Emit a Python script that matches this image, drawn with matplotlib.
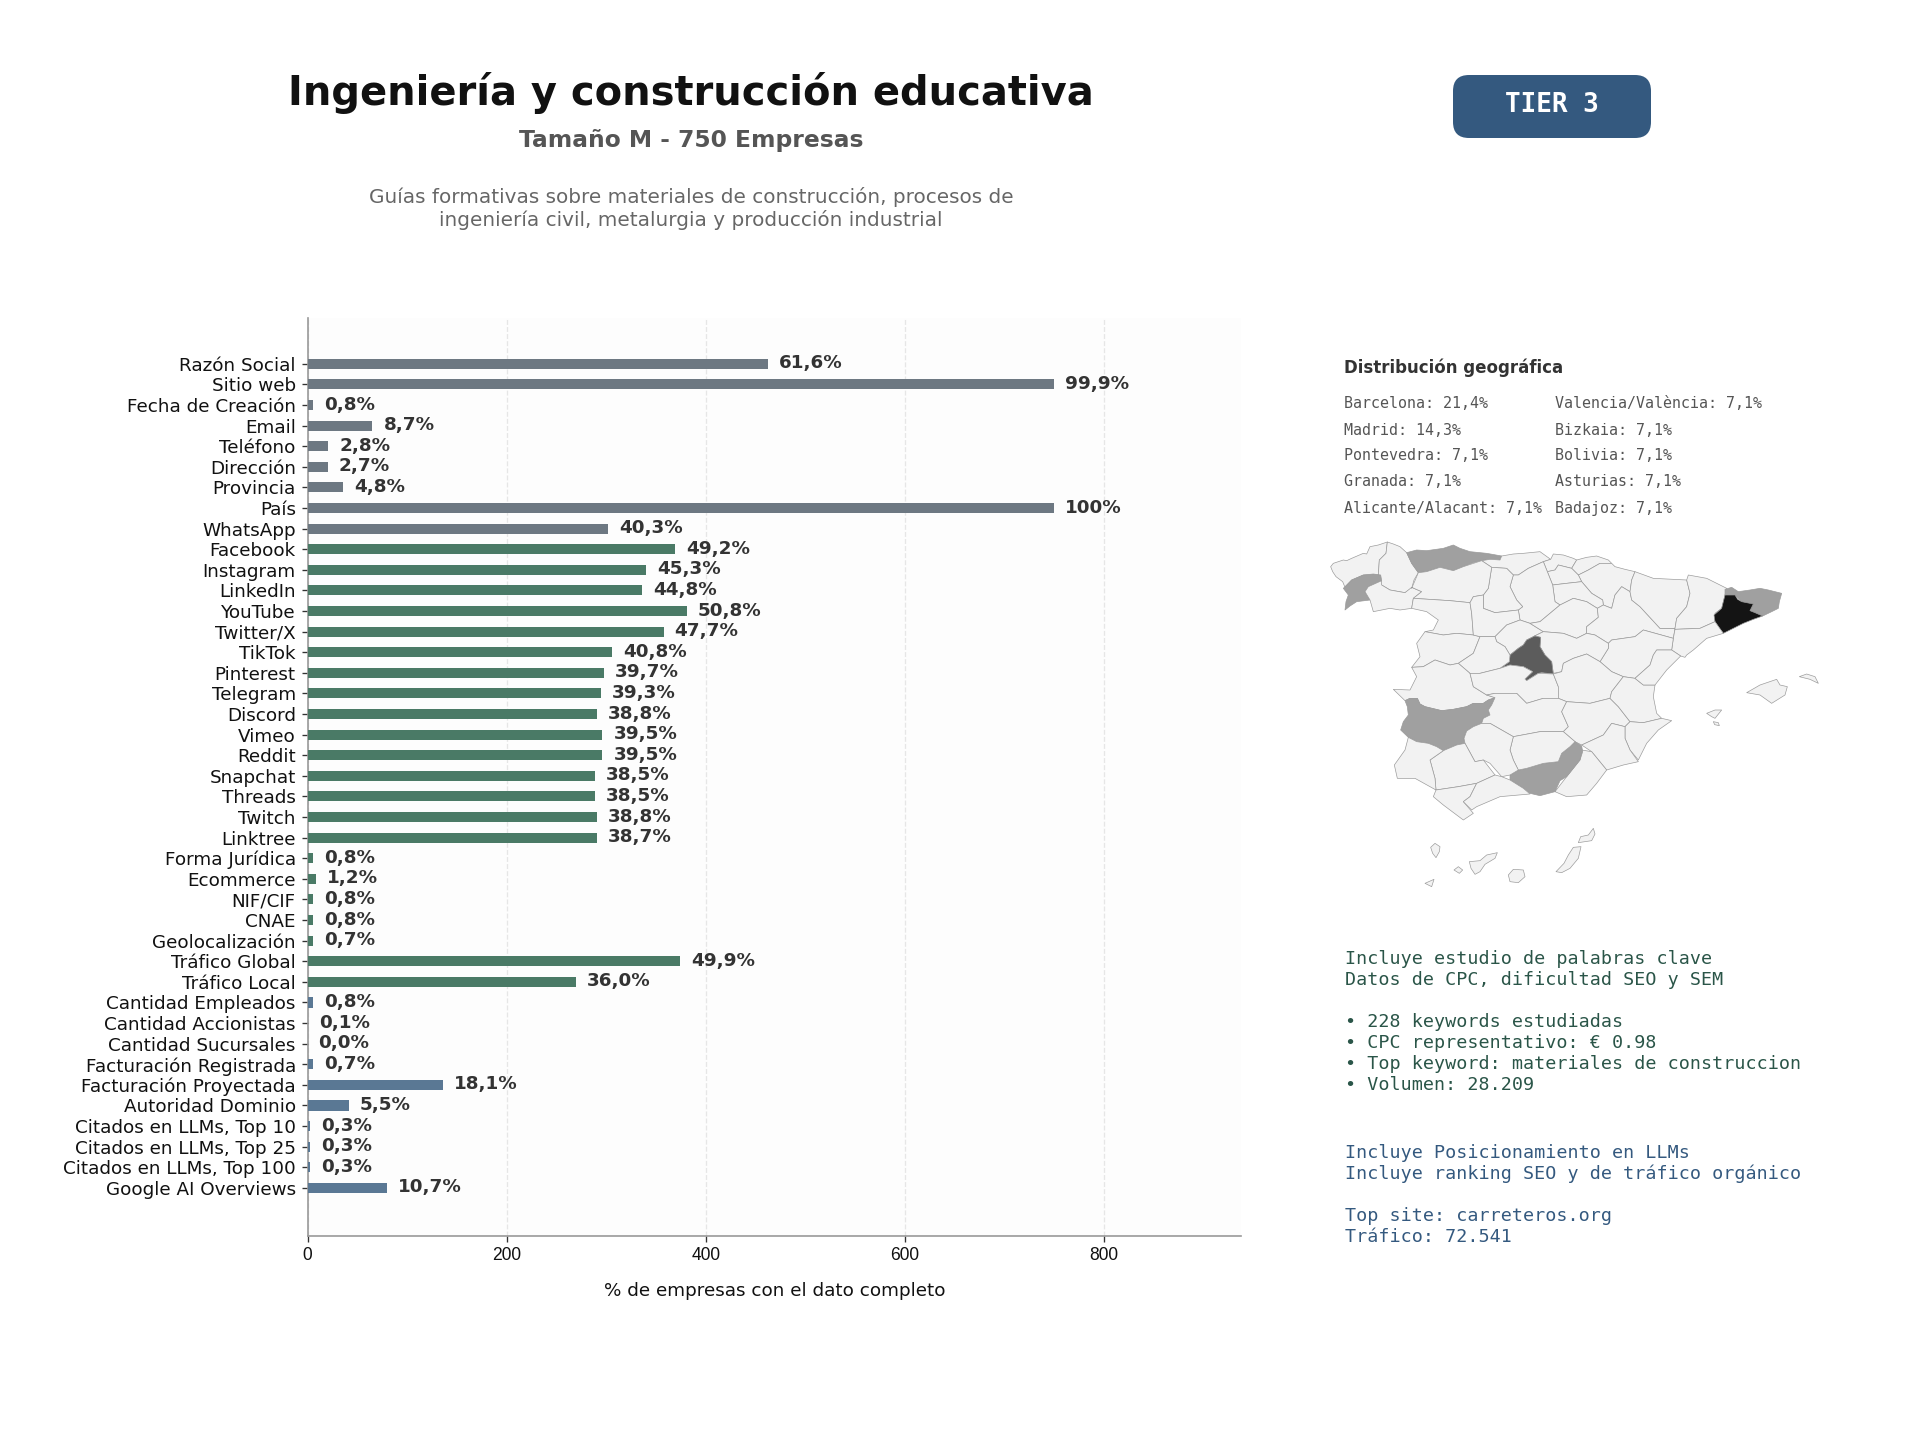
import matplotlib
matplotlib.use("Agg")
import matplotlib.pyplot as plt
from matplotlib.patches import FancyBboxPatch, Polygon

W, H = 1920, 1440

# Completeness of each company data field, in percent
GENERAL_FIELDS = ["Razón Social", "Sitio web", "Fecha de Creación", "Email", "Teléfono",
                  "Dirección", "Provincia", "País", "WhatsApp"]
GENERAL_PCT = [61.6, 99.9, 0.8, 8.7, 2.8, 2.7, 4.8, 100, 40.3]
SOCIAL_FIELDS = ["Facebook", "Instagram", "LinkedIn", "YouTube", "Twitter/X", "TikTok",
                 "Pinterest", "Telegram", "Discord", "Vimeo", "Reddit", "Snapchat",
                 "Threads", "Twitch", "Linktree", "Forma Jurídica", "Ecommerce", "NIF/CIF",
                 "CNAE", "Geolocalización", "Tráfico Global", "Tráfico Local"]
SOCIAL_PCT = [49.2, 45.3, 44.8, 50.8, 47.7, 40.8, 39.7, 39.3, 38.8, 39.5, 39.5, 38.5,
              38.5, 38.8, 38.7, 0.8, 1.2, 0.8, 0.8, 0.7, 49.9, 36.0]
BUSINESS_FIELDS = ["Cantidad Empleados", "Cantidad Accionistas", "Cantidad Sucursales",
                   "Facturación Registrada", "Facturación Proyectada", "Autoridad Dominio",
                   "Citados en LLMs, Top 10", "Citados en LLMs, Top 25",
                   "Citados en LLMs, Top 100", "Google AI Overviews"]
BUSINESS_PCT = [0.8, 0.1, 0.0, 0.7, 18.1, 5.5, 0.3, 0.3, 0.3, 10.7]
TOTAL_COMPANIES = 750
X_TICKS = [0, 200, 400, 600, 800]

GEO_LEFT = ["Barcelona: 21,4%", "Madrid: 14,3%", "Pontevedra: 7,1%", "Granada: 7,1%",
            "Alicante/Alacant: 7,1%"]
GEO_RIGHT = ["Valencia/València: 7,1%", "Bizkaia: 7,1%", "Bolivia: 7,1%", "Asturias: 7,1%",
             "Badajoz: 7,1%"]
SEO_LINES = ["Incluye estudio de palabras clave", "Datos de CPC, dificultad SEO y SEM", "",
             "• 228 keywords estudiadas", "• CPC representativo: € 0.98",
             "• Top keyword: materiales de construccion", "• Volumen: 28.209"]
LLM_LINES = ["Incluye Posicionamiento en LLMs", "Incluye ranking SEO y de tráfico orgánico", "",
             "Top site: carreteros.org", "Tráfico: 72.541"]

# Simplified province outlines in map units (y grows southwards)
PROVINCES = {
    "A Coruña": [(62,110),(70,100),(100,90),(110,92),(125,85),(160,70),(170,72),(180,50),(205,45),(232,36),(228,70),(208,90),(205,135),(160,135),(125,150),(105,172),(98,155),(78,140),(68,125)],
    "Lugo": [(232,36),(250,42),(270,50),(290,68),(305,100),(325,128),(312,150),(305,175),(285,188),(240,180),(215,165),(212,150),(205,135),(208,90),(228,70)],
    "Pontevedra": [(125,150),(160,135),(190,132),(212,135),(215,152),(195,162),(175,170),(165,185),(180,210),(140,215),(120,228),(105,240),(108,215),(115,195),(100,175)],
    "Ourense": [(175,170),(215,152),(215,165),(240,180),(285,188),(305,172),(335,185),(310,205),(305,235),(270,240),(240,235),(190,245),(180,210),(165,185)],
    "Asturias": [(290,68),(320,60),(350,62),(400,55),(430,45),(450,55),(480,65),(530,70),(575,78),(570,90),(540,88),(515,92),(490,98),(460,110),(430,122),(405,115),(390,112),(365,120),(350,125),(325,128),(312,110),(305,100)],
    "Cantabria": [(575,78),(610,72),(640,70),(690,65),(722,88),(700,95),(655,115),(625,135),(610,135),(590,115),(545,112),(515,92),(540,88),(570,90)],
    "Bizkaia": [(722,88),(730,72),(760,75),(790,85),(800,90),(785,115),(745,105),(735,120),(712,125),(700,95)],
    "Gipuzkoa": [(800,90),(830,82),(860,78),(895,90),(905,100),(870,100),(835,120),(805,135),(785,115)],
    "Navarra": [(805,135),(835,120),(870,100),(905,100),(915,110),(945,118),(975,125),(965,150),(960,185),(935,170),(915,195),(905,235),(880,225),(878,210),(845,190),(815,155)],
    "Álava": [(712,125),(735,120),(745,105),(785,115),(805,135),(815,155),(770,160),(728,165),(720,145)],
    "La Rioja": [(728,165),(770,160),(815,155),(845,190),(878,210),(880,225),(862,235),(830,215),(790,205),(750,225),(735,215)],
    "Burgos": [(625,135),(655,115),(700,95),(712,125),(720,145),(728,165),(735,215),(750,225),(690,275),(660,280),(630,270),(625,240),(638,230),(620,210),(600,170),(610,135)],
    "Palencia": [(545,112),(590,115),(610,135),(600,170),(620,210),(638,230),(625,240),(555,248),(520,235),(520,195),(535,175)],
    "León": [(305,175),(325,128),(350,125),(390,112),(430,122),(460,110),(515,92),(545,112),(535,175),(520,195),(490,200),(480,218),(420,212),(310,205),(335,185),(305,172)],
    "Zamora": [(310,205),(420,212),(480,218),(485,250),(490,315),(440,310),(400,315),(345,305),(370,300),(385,270),(350,245),(305,235)],
    "Salamanca": [(345,305),(400,315),(440,310),(490,315),(510,320),(490,370),(445,400),(420,405),(375,390),(340,410),(305,412),(330,380),(320,340)],
    "Valladolid": [(490,200),(520,195),(520,235),(555,248),(625,240),(630,270),(590,285),(555,320),(510,320),(490,315),(485,250),(480,218)],
    "Segovia": [(555,320),(590,285),(630,270),(660,280),(700,305),(670,320),(650,330),(640,345),(625,355),(600,375),(585,350),(560,335)],
    "Soria": [(690,275),(750,225),(790,205),(830,215),(862,235),(865,262),(830,290),(830,310),(800,325),(760,310),(700,305),(660,280)],
    "Zaragoza": [(880,225),(905,235),(915,195),(935,170),(960,185),(965,210),(990,230),(1050,295),(1095,295),(1090,325),(1000,300),(975,320),(905,330),(895,340),(855,315),(830,310),(830,290),(865,262),(862,235)],
    "Huesca": [(965,150),(975,125),(1030,145),(1130,150),(1140,190),(1130,230),(1100,265),(1095,295),(1050,295),(990,230),(965,210),(960,185)],
    "Lleida": [(1130,150),(1135,135),(1190,145),(1250,175),(1245,195),(1235,235),(1215,250),(1215,275),(1170,295),(1095,298),(1095,295),(1100,265),(1130,230),(1140,190)],
    "Girona": [(1245,178),(1265,172),(1285,185),(1320,180),(1350,175),(1375,180),(1415,190),(1408,215),(1405,235),(1385,245),(1358,258),(1335,248),(1320,242),(1330,222),(1312,218),(1295,215),(1275,195),(1245,195)],
    "Barcelona": [(1245,195),(1275,195),(1283,208),(1295,215),(1330,222),(1320,242),(1335,248),(1358,258),(1330,268),(1300,280),(1270,295),(1240,310),(1228,295),(1215,275),(1212,255),(1235,235),(1240,215)],
    "Tarragona": [(1215,275),(1240,310),(1190,325),(1150,360),(1130,375),(1125,382),(1112,378),(1085,360),(1090,325),(1095,298),(1170,295)],
    "Teruel": [(895,340),(905,330),(975,320),(1000,300),(1090,325),(1085,360),(1040,360),(1030,375),(1020,405),(975,445),(940,440),(905,425),(870,395),(895,355)],
    "Guadalajara": [(700,305),(760,310),(800,325),(830,310),(855,315),(895,340),(895,355),(870,395),(830,372),(790,385),(760,400),(755,425),(730,430),(725,395),(705,375),(690,350),(692,322),(675,318),(670,320)],
    "Madrid": [(670,320),(675,318),(692,322),(690,350),(705,375),(725,395),(730,432),(695,428),(685,430),(650,452),(645,447),(668,425),(640,410),(600,405),(570,415),(598,395),(600,375),(625,355),(640,345),(650,330)],
    "Ávila": [(510,320),(555,320),(560,335),(585,350),(600,375),(598,395),(570,415),(510,430),(480,430),(445,400),(490,370)],
    "Cáceres": [(305,412),(340,410),(375,390),(420,405),(445,400),(480,430),(490,470),(530,495),(555,503),(535,510),(520,520),(490,520),(470,530),(430,538),(395,542),(345,530),(330,522),(322,505),(300,505),(285,512),(250,478),(300,480),(320,440)],
    "Badajoz": [(285,512),(300,505),(322,505),(330,522),(345,530),(395,542),(430,538),(470,530),(490,520),(520,520),(535,510),(555,503),(545,525),(535,540),(540,555),(520,565),(515,580),(490,590),(470,603),(462,625),(465,640),(440,645),(400,662),(380,650),(355,640),(320,635),(295,622),(272,600),(280,575),(295,555),(292,530)],
    "Toledo": [(480,430),(510,430),(570,415),(600,405),(640,410),(668,425),(645,447),(650,452),(685,430),(730,432),(745,470),(745,505),(700,505),(650,520),(620,490),(590,490),(555,490),(530,495),(490,470)],
    "Cuenca": [(760,400),(790,385),(830,372),(870,395),(905,425),(940,440),(905,485),(900,505),(840,520),(770,515),(745,505),(745,470),(730,432),(755,425)],
    "Ciudad Real": [(530,495),(555,490),(590,490),(620,490),(650,520),(700,505),(745,505),(770,515),(755,545),(775,590),(760,605),(690,605),(610,620),(540,580),(515,580),(520,565),(540,555),(535,540),(545,525),(555,503)],
    "Albacete": [(770,515),(840,520),(900,505),(925,530),(960,575),(945,590),(905,580),(880,615),(815,645),(795,635),(760,605),(775,590),(755,545)],
    "Valencia": [(905,485),(940,440),(975,445),(1000,465),(1035,465),(1030,500),(1040,550),(1055,565),(1000,578),(960,575),(925,530),(900,505)],
    "Castellón": [(975,445),(1020,405),(1030,375),(1040,360),(1085,360),(1112,378),(1070,420),(1035,465),(1000,465)],
    "Alicante": [(960,575),(1000,578),(1055,565),(1085,572),(1045,600),(1010,640),(985,690),(960,660),(945,625),(945,590)],
    "Murcia": [(815,645),(880,615),(905,580),(945,590),(945,625),(960,660),(985,695),(940,705),(890,720),(845,665)],
    "Almería": [(815,660),(845,665),(890,720),(860,760),(830,795),(770,800),(735,785),(770,740),(810,690)],
    "Granada": [(780,650),(795,635),(815,648),(818,665),(810,690),(790,715),(770,740),(750,752),(735,785),(690,797),(660,790),(640,775),(600,750),(600,735),(625,720),(650,715),(700,700),(745,695),(755,670)],
    "Jaén": [(610,620),(690,605),(760,605),(795,635),(780,650),(755,670),(745,695),(700,700),(650,715),(625,720),(610,690),(600,660)],
    "Córdoba": [(515,580),(540,580),(610,620),(600,660),(610,690),(625,720),(600,735),(575,740),(540,700),(520,690),(495,695),(465,640),(462,625),(470,603),(490,590)],
    "Sevilla": [(360,690),(400,662),(440,645),(465,640),(495,695),(520,690),(555,735),(500,760),(445,770),(378,780),(375,745)],
    "Huelva": [(295,622),(320,635),(355,640),(380,650),(400,662),(360,690),(375,745),(378,780),(315,745),(262,745),(253,705),(285,660)],
    "Cádiz": [(378,780),(445,770),(500,760),(480,800),(460,815),(490,850),(460,870),(400,825),(370,800)],
    "Málaga": [(500,760),(555,735),(575,740),(600,750),(640,775),(660,792),(570,800),(500,830),(485,840),(460,815),(480,800)],
    "Mallorca": [(1310,488),(1350,465),(1400,448),(1410,465),(1432,470),(1425,495),(1385,520),(1350,495)],
    "Menorca": [(1468,440),(1490,432),(1515,440),(1525,460),(1500,448)],
    "Ibiza": [(1190,550),(1215,540),(1235,540),(1215,565),(1205,560)],
    "Formentera": [(1210,575),(1225,578),(1228,587),(1214,584)],
    "Tenerife": [(478,995),(510,992),(530,975),(562,968),(555,985),(525,1003),(510,1025),(495,1033),(483,1015)],
    "Gran Canaria": [(595,1035),(610,1018),(640,1020),(645,1040),(625,1058),(600,1055)],
    "La Gomera": [(432,1020),(445,1010),(458,1020),(448,1030)],
    "La Palma": [(362,952),(375,940),(390,950),(388,965),(378,983),(368,970)],
    "El Hierro": [(345,1060),(372,1048),(365,1070)],
    "Fuerteventura": [(738,1025),(762,1000),(775,975),(790,952),(813,950),(805,985),(780,1015),(755,1028)],
    "Lanzarote": [(805,938),(812,920),(835,915),(850,895),(855,912),(845,932)],
}
PROVINCE_FILLS = {"Barcelona": "#141414", "Madrid": "#5c5c5c", "Pontevedra": "#a0a0a0",
                  "Granada": "#a0a0a0", "Asturias": "#a0a0a0", "Badajoz": "#a0a0a0",
                  "Girona": "#a0a0a0"}

GRAY, GREEN, BLUE = "#6d7882", "#4a7a66", "#5a7894"


def rect(x0, y0, x1, y1):
    """Figure-fraction rectangle from pixel edges measured from the top left."""
    return [x0 / W, 1 - y1 / H, (x1 - x0) / W, (y1 - y0) / H]


def put(x, y, s, **kw):
    return fig.text(x / W, 1 - y / H, s, **kw)


fig = plt.figure(figsize=(16, 12), dpi=120, facecolor="white")

# Header
put(691, 92.5, "Ingeniería y construcción educativa", fontsize=24, fontweight="bold",
    color="#111111", ha="center", va="center")
put(691, 141, "Tamaño M - 750 Empresas", fontsize=14, fontweight="bold",
    color="#555555", ha="center", va="center")
put(691, 197, "Guías formativas sobre materiales de construcción, procesos de",
    fontsize=12, color="#666666", ha="center", va="center")
put(691, 220, "ingeniería civil, metalurgia y producción industrial",
    fontsize=12, color="#666666", ha="center", va="center")

# Tier badge
badge_ax = fig.add_axes([0, 0, 1, 1], zorder=3)
badge_ax.set_xlim(0, W)
badge_ax.set_ylim(H, 0)
badge_ax.axis("off")
badge_ax.add_patch(FancyBboxPatch((1453, 75), 198, 63, boxstyle="round,pad=0,rounding_size=16",
                                  fc="#34597f", ec="none"))
put(1552, 105.5, "TIER 3", fontsize=15.6, fontweight="bold", family="DejaVu Sans Mono",
    color="white", ha="center", va="center", zorder=5)

# Completeness bars
labels = GENERAL_FIELDS + SOCIAL_FIELDS + BUSINESS_FIELDS
pcts = GENERAL_PCT + SOCIAL_PCT + BUSINESS_PCT
colors = [GRAY] * len(GENERAL_PCT) + [GREEN] * len(SOCIAL_PCT) + [BLUE] * len(BUSINESS_PCT)
counts = [p * TOTAL_COMPANIES / 100 for p in pcts]
ypos = list(range(len(labels)))

ax = fig.add_axes(rect(307.5, 318, 1241, 1235.5), facecolor="#fdfdfd")
ax.barh(ypos, counts, height=0.49, color=colors, zorder=3)
ax.set_xlim(0, TOTAL_COMPANIES * 1.25)
ax.set_ylim(len(labels) - 1 + 2.31, -2.22)
ax.set_yticks(ypos, labels, fontsize=11, color="#111111")
ax.set_xticks(X_TICKS)
ax.tick_params(axis="x", length=3.5, color="#333333", labelcolor="#111111")
for tick_label in ax.get_xticklabels():
    tick_label.set_fontfamily("Liberation Sans")
    tick_label.set_fontsize(10.5)
ax.tick_params(axis="y", length=3.5, color="#333333")
ax.set_xlabel("% de empresas con el dato completo", fontsize=11, color="#111111", labelpad=11)
ax.grid(axis="x", ls="--", lw=0.8, color="#dddddd", alpha=0.7, zorder=1)
ax.set_axisbelow(True)
for side in ("top", "right"):
    ax.spines[side].set_visible(False)
for side in ("left", "bottom"):
    ax.spines[side].set_color("#999999")
    ax.spines[side].set_linewidth(1.0)


def pct_text(p):
    return "100%" if p == 100 else f"{p:.1f}".replace(".", ",") + "%"


for y, c, p in zip(ypos, counts, pcts):
    ax.text(c + 11, y - 0.02, pct_text(p), fontsize=11, fontweight="bold", color="#333333",
            va="center", ha="left", zorder=4)

# Geographic breakdown
put(1344, 368, "Distribución geográfica", fontsize=10, fontweight="bold", color="#333333",
    ha="left", va="center")
for i, (a, b) in enumerate(zip(GEO_LEFT, GEO_RIGHT)):
    y = 404 + i * 26
    put(1344, y, a, fontsize=9, family="DejaVu Sans Mono", color="#555555", ha="left", va="center")
    put(1555, y, b, fontsize=9, family="DejaVu Sans Mono", color="#555555", ha="left", va="center")

map_ax = fig.add_axes(rect(1310, 530, 1830, 910))
map_ax.set_xlim(0, 1560)
map_ax.set_ylim(1140, 0)
map_ax.axis("off")
for name, outline in PROVINCES.items():
    map_ax.add_patch(Polygon(outline, closed=True, fc=PROVINCE_FILLS.get(name, "#f2f2f2"),
                             ec="#9a9a9a", lw=0.4, joinstyle="round"))

# Keyword and ranking notes
for i, line in enumerate(SEO_LINES):
    put(1345, 959.5 + i * 20.85, line, fontsize=11, family="DejaVu Sans Mono", color="#2a5548",
        ha="left", va="center")
for i, line in enumerate(LLM_LINES):
    put(1345, 1153 + i * 21, line, fontsize=11, family="DejaVu Sans Mono", color="#34597f",
        ha="left", va="center")

fig.savefig("out.png", dpi=120)
